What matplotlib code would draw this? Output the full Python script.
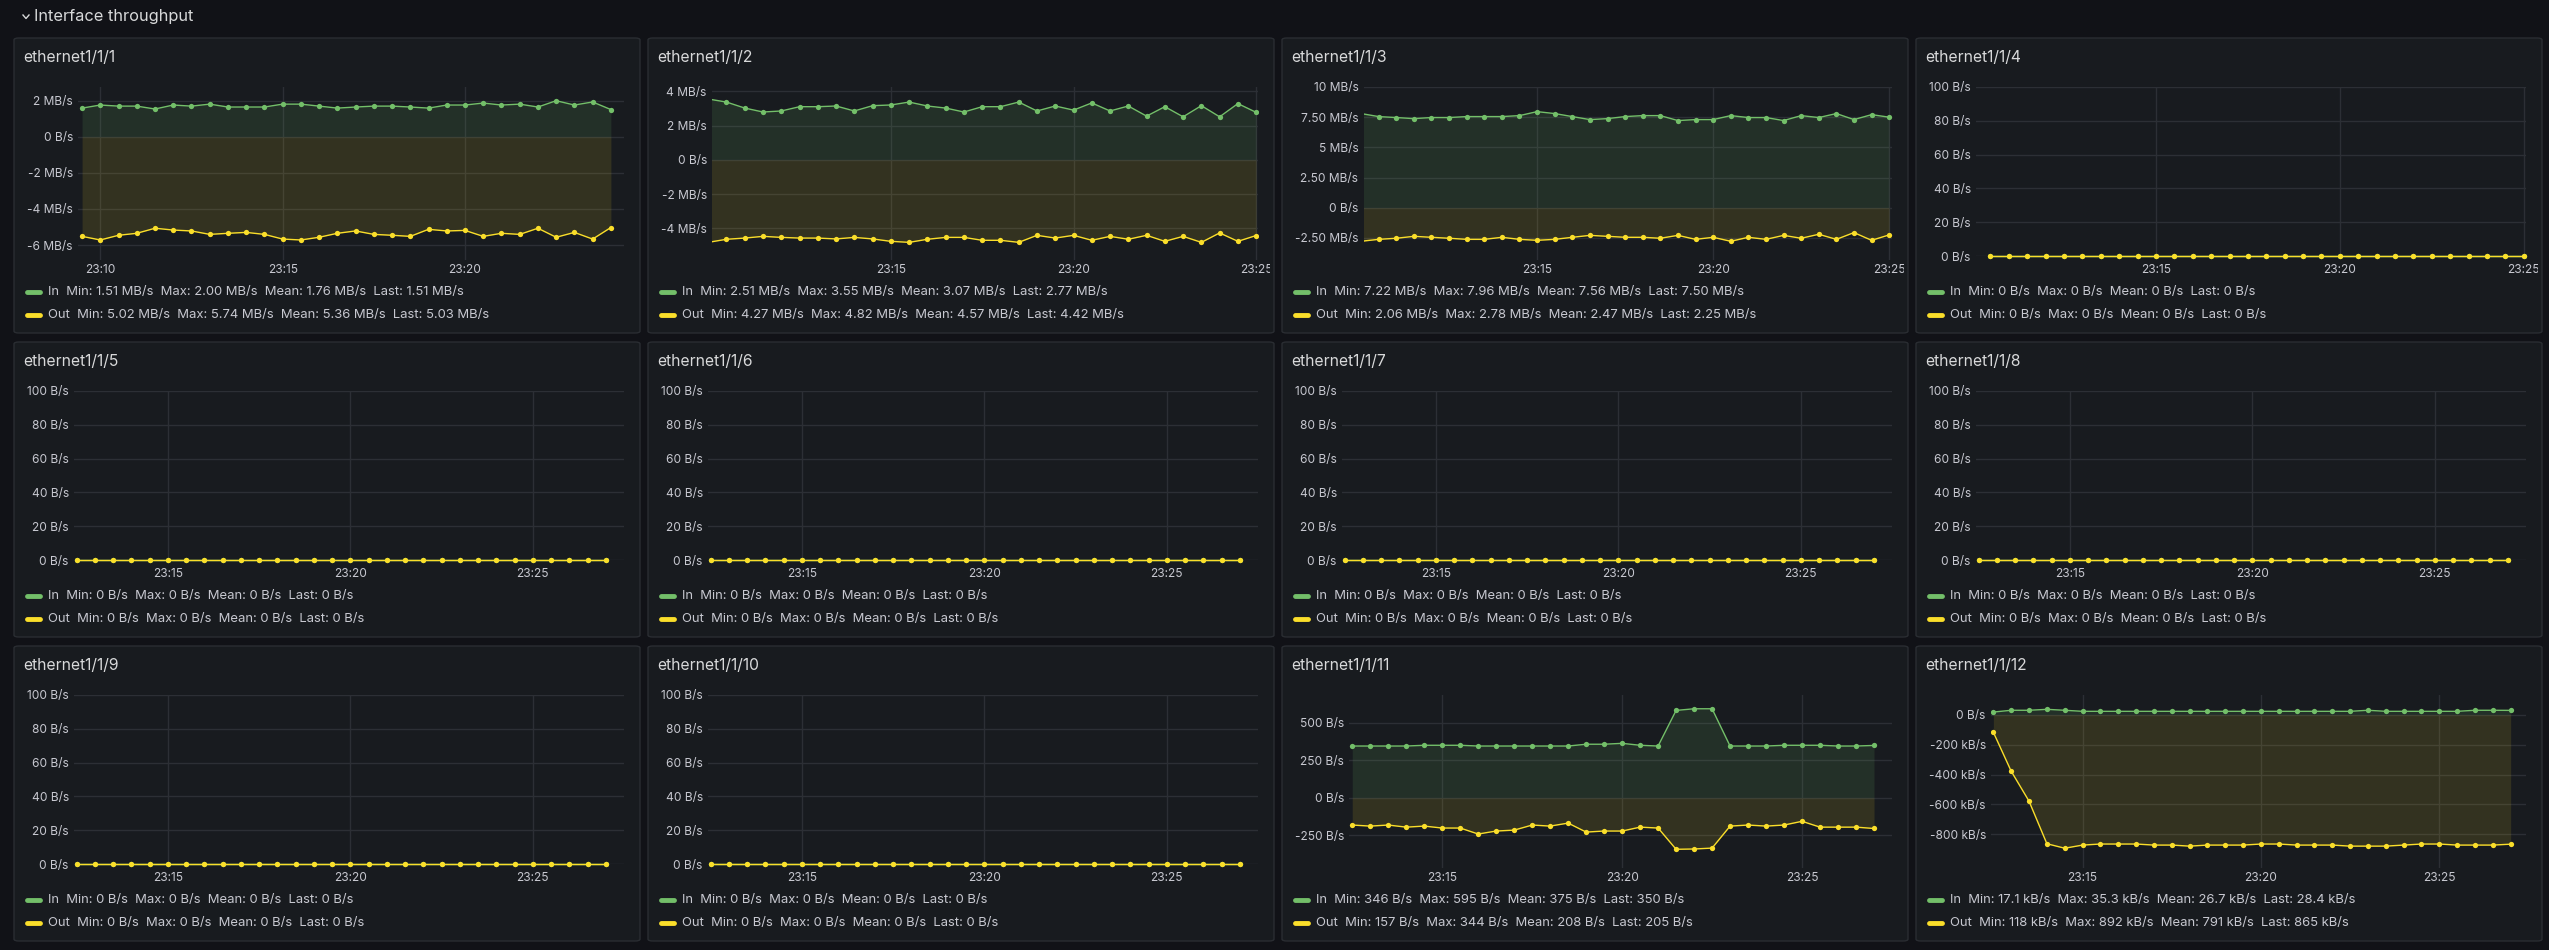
import matplotlib
matplotlib.use("Agg")
import matplotlib.pyplot as plt
import numpy as np
from matplotlib.patches import FancyBboxPatch
from matplotlib.transforms import blended_transform_factory, Bbox, TransformedBbox
from matplotlib.lines import Line2D

plt.rcParams['font.family'] = ['Inter', 'DejaVu Sans']

# ---------------- data ----------------
titles = ["ethernet1/1/%d" % i for i in range(1, 13)]

# timestamps (minutes after 23:00), 30-second samples
t_p1 = [9.5 + 0.5 * i for i in range(30)]
t_p23 = [10.0 + 0.5 * i for i in range(31)]
t_p4 = [10.5 + 0.5 * i for i in range(30)]
t_late = [12.5 + 0.5 * i for i in range(30)]

# ethernet1/1/1 (MB/s)
p1_in = [1.59, 1.76, 1.70, 1.70, 1.54, 1.76, 1.70, 1.81, 1.65, 1.65, 1.65, 1.81, 1.81, 1.70, 1.59,
         1.65, 1.70, 1.70, 1.65, 1.59, 1.76, 1.76, 1.87, 1.76, 1.81, 1.65, 2.00, 1.76, 1.93, 1.51]
p1_out = [5.52, 5.72, 5.46, 5.35, 5.07, 5.17, 5.22, 5.41, 5.35, 5.30, 5.41, 5.67, 5.72, 5.57, 5.35,
          5.22, 5.41, 5.46, 5.52, 5.13, 5.22, 5.19, 5.52, 5.35, 5.41, 5.07, 5.57, 5.30, 5.67, 5.03]
# ethernet1/1/2 (MB/s)
p2_in = [3.55, 3.37, 3.02, 2.79, 2.85, 3.10, 3.10, 3.14, 2.85, 3.16, 3.20, 3.37, 3.14, 3.02, 2.79, 3.10,
         3.10, 3.37, 2.85, 3.14, 2.90, 3.32, 2.85, 3.14, 2.55, 3.10, 2.51, 3.16, 2.51, 3.28, 2.77]
p2_out = [4.82, 4.64, 4.57, 4.47, 4.53, 4.57, 4.57, 4.62, 4.53, 4.62, 4.76, 4.82, 4.64, 4.53, 4.53, 4.70,
          4.70, 4.82, 4.41, 4.57, 4.41, 4.70, 4.47, 4.64, 4.41, 4.76, 4.47, 4.82, 4.27, 4.76, 4.42]
# ethernet1/1/3 (MB/s)
p3_in = [7.80, 7.55, 7.47, 7.38, 7.47, 7.47, 7.55, 7.55, 7.55, 7.63, 7.96, 7.80, 7.55, 7.30, 7.38, 7.55,
         7.63, 7.63, 7.22, 7.30, 7.30, 7.63, 7.47, 7.47, 7.22, 7.63, 7.47, 7.80, 7.30, 7.71, 7.50]
p3_out = [2.78, 2.62, 2.53, 2.37, 2.45, 2.53, 2.62, 2.62, 2.45, 2.62, 2.70, 2.62, 2.45, 2.29, 2.37, 2.45,
          2.45, 2.53, 2.29, 2.62, 2.45, 2.78, 2.45, 2.62, 2.29, 2.53, 2.20, 2.62, 2.06, 2.70, 2.25]
# idle ports (B/s)
zero_in = [0] * 30
zero_out = [0] * 30
# ethernet1/1/11 (B/s)
p11_in = [346, 346, 346, 346, 351, 351, 351, 346, 346, 346, 346, 346, 346, 358, 358,
          364, 351, 346, 584, 595, 595, 346, 346, 346, 351, 351, 351, 346, 346, 350]
p11_out = [182, 189, 182, 196, 189, 202, 202, 242, 222, 216, 182, 189, 169, 229, 222,
           222, 196, 202, 344, 342, 336, 189, 182, 189, 182, 157, 196, 196, 196, 205]
# ethernet1/1/12 (kB/s)
p12_in = [17.1, 29, 29, 35.3, 29, 22, 22, 22, 22, 22, 22, 22, 22, 22, 22,
          22, 22, 22, 22, 22, 22, 29, 22, 22, 22, 22, 22, 29, 29, 28.4]
p12_out = [118, 378, 578, 862, 892, 871, 864, 864, 864, 871, 871, 878, 871, 871, 871,
           864, 864, 871, 871, 871, 878, 878, 878, 871, 864, 864, 871, 871, 871, 865]

legend_in = [
    "In  Min: 1.51 MB/s  Max: 2.00 MB/s  Mean: 1.76 MB/s  Last: 1.51 MB/s",
    "In  Min: 2.51 MB/s  Max: 3.55 MB/s  Mean: 3.07 MB/s  Last: 2.77 MB/s",
    "In  Min: 7.22 MB/s  Max: 7.96 MB/s  Mean: 7.56 MB/s  Last: 7.50 MB/s",
] + ["In  Min: 0 B/s  Max: 0 B/s  Mean: 0 B/s  Last: 0 B/s"] * 7 + [
    "In  Min: 346 B/s  Max: 595 B/s  Mean: 375 B/s  Last: 350 B/s",
    "In  Min: 17.1 kB/s  Max: 35.3 kB/s  Mean: 26.7 kB/s  Last: 28.4 kB/s",
]
legend_out = [
    "Out  Min: 5.02 MB/s  Max: 5.74 MB/s  Mean: 5.36 MB/s  Last: 5.03 MB/s",
    "Out  Min: 4.27 MB/s  Max: 4.82 MB/s  Mean: 4.57 MB/s  Last: 4.42 MB/s",
    "Out  Min: 2.06 MB/s  Max: 2.78 MB/s  Mean: 2.47 MB/s  Last: 2.25 MB/s",
] + ["Out  Min: 0 B/s  Max: 0 B/s  Mean: 0 B/s  Last: 0 B/s"] * 7 + [
    "Out  Min: 157 B/s  Max: 344 B/s  Mean: 208 B/s  Last: 205 B/s",
    "Out  Min: 118 kB/s  Max: 892 kB/s  Mean: 791 kB/s  Last: 865 kB/s",
]

yt_p1 = [2, 0, -2, -4, -6]
yl_p1 = ["2 MB/s", "0 B/s", "-2 MB/s", "-4 MB/s", "-6 MB/s"]
yt_p2 = [4, 2, 0, -2, -4]
yl_p2 = ["4 MB/s", "2 MB/s", "0 B/s", "-2 MB/s", "-4 MB/s"]
yt_p3 = [10, 7.5, 5, 2.5, 0, -2.5]
yl_p3 = ["10 MB/s", "7.50 MB/s", "5 MB/s", "2.50 MB/s", "0 B/s", "-2.50 MB/s"]
yt_zero = [100, 80, 60, 40, 20, 0]
yl_zero = ["100 B/s", "80 B/s", "60 B/s", "40 B/s", "20 B/s", "0 B/s"]
yt_p11 = [500, 250, 0, -250]
yl_p11 = ["500 B/s", "250 B/s", "0 B/s", "-250 B/s"]
yt_p12 = [0, -200, -400, -600, -800]
yl_p12 = ["0 B/s", "-200 kB/s", "-400 kB/s", "-600 kB/s", "-800 kB/s"]

xt_early = [10, 15, 20]
xl_early = ["23:10", "23:15", "23:20"]
xt_mid = [15, 20, 25]
xl_mid = ["23:15", "23:20", "23:25"]

panels = [
    dict(t=t_p1, i=p1_in, o=p1_out, yt=yt_p1, yl=yl_p1, ylim=(-6.83, 2.76), xlim=(9.385, 24.36), xt=xt_early, xl=xl_early),
    dict(t=t_p23, i=p2_in, o=p2_out, yt=yt_p2, yl=yl_p2, ylim=(-5.85, 4.25), xlim=(10.1, 25.05), xt=xt_mid, xl=xl_mid),
    dict(t=t_p23, i=p3_in, o=p3_out, yt=yt_p3, yl=yl_p3, ylim=(-4.33, 10.0), xlim=(10.07, 25.08), xt=xt_mid, xl=xl_mid),
    dict(t=t_p4, i=zero_in, o=zero_out, yt=yt_zero, yl=yl_zero, ylim=(0, 100), xlim=(10.1, 25.06), xt=xt_mid, xl=xl_mid),
]
for _ in range(6):
    panels.append(dict(t=t_late, i=zero_in, o=zero_out, yt=yt_zero, yl=yl_zero, ylim=(0, 100), xlim=(12.42, 27.5), xt=xt_mid, xl=xl_mid))
panels.append(dict(t=t_late, i=p11_in, o=p11_out, yt=yt_p11, yl=yl_p11, ylim=(-469, 687), xlim=(12.42, 27.5), xt=xt_mid, xl=xl_mid))
panels.append(dict(t=t_late, i=p12_in, o=p12_out, yt=yt_p12, yl=yl_p12, ylim=(-1024, 131), xlim=(12.43, 27.43), xt=xt_mid, xl=xl_mid))

# ---------------- style ----------------
W, H = 2549, 950
BG = "#111217"
PANEL = "#181b1f"
BORDER = "#2a2d32"
GRID = "#2c2f35"
TXT = "#c7c8d0"
GREEN = "#73bf69"
YELLOW = "#fade2a"

fig = plt.figure(figsize=(W / 100, H / 100), dpi=100, facecolor=BG)

def fx(x):
    return x / W

def fy(y):
    return 1 - y / H

# header
fig.text(fx(34), fy(16), "Interface throughput", color="#d8d9da", fontsize=11.8, va="center", ha="left")
fig.add_artist(Line2D([fx(23), fx(26), fx(29)], [fy(15), fy(18.5), fy(15)], color="#d8d9da", lw=1.0))

col_left = [14, 648, 1282, 1916]
row_top = [38, 342, 646]
PW, PH = 626, 295

axes = []
for k, p in enumerate(panels):
    r, c = divmod(k, 4)
    L, T = col_left[c], row_top[r]
    fig.add_artist(FancyBboxPatch((fx(L), fy(T + PH)), fx(PW), PH / H,
                                  boxstyle="round,pad=0,rounding_size=0.002",
                                  transform=fig.transFigure, facecolor=PANEL,
                                  edgecolor=BORDER, lw=1.0, zorder=0))
    fig.text(fx(L + 9), fy(T + 19), titles[k], color="#d8d9da", fontsize=11.3, va="center", ha="left")
    zero = p["ylim"][0] == 0
    bottom = T + (218 if zero else 222)
    ax = fig.add_axes([fx(L + 70), fy(bottom), fx(PW - 70 - 16), (bottom - (T + 49)) / H])
    ax.set_facecolor("none")
    for s in ax.spines.values():
        s.set_visible(False)
    ax.set_xlim(p["xlim"])
    ax.set_ylim(p["ylim"])
    ax.set_yticks(p["yt"])
    ax.set_yticklabels(p["yl"])
    ax.set_xticks(p["xt"])
    ax.tick_params(axis="both", length=0, colors=TXT, labelsize=8.6, pad=3.6)
    ax.tick_params(axis="x", labelbottom=False)
    ax.grid(True, color=GRID, lw=1.0)
    ax.set_axisbelow(True)

    t = np.array(p["t"], dtype=float)
    vin = np.array(p["i"], dtype=float)
    vout = -np.array(p["o"], dtype=float)
    ax.fill_between(t, 0, vin, color=GREEN, alpha=0.13, lw=0)
    ax.fill_between(t, vout, 0, color=YELLOW, alpha=0.12, lw=0)
    ax.plot(t, vin, color=GREEN, lw=1.0, marker="o", ms=3.8, mew=0, clip_on=zero is False)
    ax.plot(t, vout, color=YELLOW, lw=1.0, marker="o", ms=3.8, mew=0, clip_on=zero is False)

    # x tick labels, clipped to panel
    clip = TransformedBbox(Bbox([[fx(L), fy(T + PH)], [fx(L + PW - 4), fy(T)]]), fig.transFigure)
    tr = blended_transform_factory(ax.transData, fig.transFigure)
    for xv, lab in zip(p["xt"], p["xl"]):
        tx = ax.text(xv, fy(T + 232), lab, transform=tr, color=TXT, fontsize=8.6, ha="center", va="center")
        tx.set_clip_box(clip)
        tx.set_clip_on(True)

    # legend
    for j, (col, txt) in enumerate([(GREEN, legend_in[k]), (YELLOW, legend_out[k])]):
        yy = T + 254 + j * 23
        fig.add_artist(Line2D([fx(L + 13), fx(L + 26)], [fy(yy), fy(yy)], color=col, lw=3.5, solid_capstyle="round"))
        fig.text(fx(L + 34), fy(yy), txt, color=TXT, fontsize=9.4, va="center", ha="left")
    axes.append((ax, L, T, bottom))

# reposition axes according to y tick label widths
fig.canvas.draw()
rend = fig.canvas.get_renderer()
for ax, L, T, bottom in axes:
    w = max(l.get_window_extent(rend).width for l in ax.get_yticklabels())
    left = L + 13 + w + 5
    right = L + PW - 16
    ax.set_position([fx(left), fy(bottom), fx(right - left), (bottom - (T + 49)) / H])

fig.savefig("out.png", dpi=100, facecolor=BG)
